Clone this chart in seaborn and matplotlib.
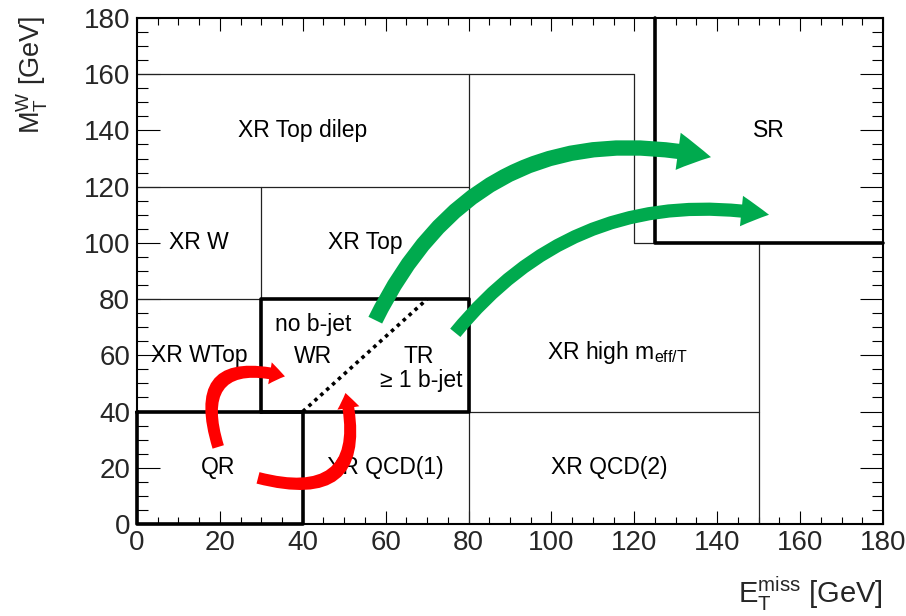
import matplotlib
matplotlib.use("Agg")
import matplotlib.pyplot as plt
import pandas as pd
import seaborn as sns
from matplotlib.patches import FancyArrowPatch, ArrowStyle
from matplotlib.ticker import MultipleLocator

# ---------------- data ----------------
x_ticks = [0, 20, 40, 60, 80, 100, 120, 140, 160, 180]
y_ticks = [0, 20, 40, 60, 80, 100, 120, 140, 160, 180]

# thin region boundaries (E_T^miss, M_T^W) per segment
thin_seg_x = [[0, 120], [120, 120, 125], [80, 80], [0, 80], [30, 30], [0, 30], [80, 150], [150, 150]]
thin_seg_y = [[160, 160], [160, 100, 100], [160, 0], [120, 120], [120, 80], [80, 80], [40, 40], [100, 0]]

# thick region boundaries (WR/TR box, QR box, SR)
thick_seg_x = [[30, 30, 80, 80, 30], [0, 40, 40, 0, 0], [125, 125, 180]]
thick_seg_y = [[40, 80, 80, 40, 40], [40, 40, 0, 0, 40], [180, 100, 100]]

# WR / TR dividing line
div_x = [40, 70]
div_y = [40, 80]

region_names = ["XR Top dilep", "XR W", "XR Top", "no b-jet", "XR WTop", "WR", "TR",
                "\u2265 1 b-jet", r"XR high $\mathrm{m}_{\mathrm{eff/T}}$", "QR",
                "XR QCD(1)", "XR QCD(2)", "SR"]
region_x = [40, 15, 55, 42.5, 15, 42.5, 68, 68.5, 116, 19.5, 60, 114, 152.5]
region_y = [140, 100, 100, 71, 60, 59.5, 59.5, 51, 61, 20, 20, 20, 140]

# extrapolation arrows
green_from_x = [57.5, 76.8]
green_from_y = [72.5, 68.0]
green_to_x = [138.5, 152.5]
green_to_y = [130.5, 110.0]
green_rad = [-0.39, -0.29]
green_head_len = [24, 20]
green_head_wid = [27, 22]
green_tail_wid = [11, 9.5]

red_from_x = [19.6, 29.2]
red_from_y = [27.4, 16.4]
red_to_x = [35.7, 50.3]
red_to_y = [52.5, 46.6]
red_rad = [-0.88, 0.82]

# ---------------- style ----------------
sns.set_theme(style="ticks")
plt.rcParams["font.family"] = ["Liberation Sans", "DejaVu Sans"]
plt.rcParams["mathtext.fontset"] = "custom"
plt.rcParams["mathtext.rm"] = "Liberation Sans"
plt.rcParams["mathtext.it"] = "Liberation Sans"
plt.rcParams["mathtext.bf"] = "Liberation Sans:bold"

fig = plt.figure(figsize=(9.06, 6.16), dpi=100)
ax = fig.add_axes([0.1512, 0.1494, 0.8234, 0.8214])


def seg_frame(xs, ys):
    rows = []
    for i, (sx, sy) in enumerate(zip(xs, ys)):
        for j, (a, b) in enumerate(zip(sx, sy)):
            rows.append({"x": a, "y": b, "seg": i, "order": j})
    return pd.DataFrame(rows)


thin_df = seg_frame(thin_seg_x, thin_seg_y)
thick_df = seg_frame(thick_seg_x, thick_seg_y)
div_df = pd.DataFrame({"x": div_x, "y": div_y})

sns.lineplot(data=thin_df, x="x", y="y", units="seg", estimator=None, sort=False,
             color="#222222", linewidth=0.9, ax=ax, zorder=2)
sns.lineplot(data=thick_df, x="x", y="y", units="seg", estimator=None, sort=False,
             color="black", linewidth=2.6, ax=ax, zorder=3, clip_on=False)
sns.lineplot(data=div_df, x="x", y="y", estimator=None, sort=False,
             color="black", linewidth=2.6, linestyle=(0, (1.0, 1.2)), ax=ax, zorder=3)

for name, tx, ty in zip(region_names, region_x, region_y):
    ax.text(tx, ty, name, ha="center", va="center", fontsize=16.5, color="black", zorder=4)

for x0, y0, x1, y1, r, hl, hw, tw in zip(green_from_x, green_from_y, green_to_x, green_to_y,
                                         green_rad, green_head_len, green_head_wid, green_tail_wid):
    style = ArrowStyle.Simple(head_length=hl, head_width=hw, tail_width=tw)
    ax.add_patch(FancyArrowPatch((x0, y0), (x1, y1), arrowstyle=style,
                                 connectionstyle=f"arc3,rad={r}", mutation_scale=1,
                                 shrinkA=0, shrinkB=0, color="#00AA4E", lw=0, zorder=5))

red_style = ArrowStyle.Simple(head_length=11, head_width=16, tail_width=8.5)
for x0, y0, x1, y1, r in zip(red_from_x, red_from_y, red_to_x, red_to_y, red_rad):
    ax.add_patch(FancyArrowPatch((x0, y0), (x1, y1), arrowstyle=red_style,
                                 connectionstyle=f"arc3,rad={r}", mutation_scale=1,
                                 shrinkA=0, shrinkB=0, color="#FF0000", lw=0, zorder=5))

ax.set_xlim(0, 180)
ax.set_ylim(0, 180)
ax.set_xticks(x_ticks)
ax.set_yticks(y_ticks)
ax.set_xticklabels([str(v) for v in x_ticks])
ax.set_yticklabels([str(v) for v in y_ticks])
ax.xaxis.set_minor_locator(MultipleLocator(5))
ax.yaxis.set_minor_locator(MultipleLocator(5))
ax.tick_params(axis="x", which="major", direction="in", length=9.5, width=0.8,
               top=True, bottom=True, labelsize=20, pad=4, color="black")
ax.tick_params(axis="x", which="minor", direction="in", length=5, width=0.8,
               top=True, bottom=True, color="black")
ax.tick_params(axis="y", which="major", direction="in", length=16.5, width=0.8,
               left=True, right=True, labelsize=20, pad=5, color="black")
ax.tick_params(axis="y", which="minor", direction="in", length=8, width=0.8,
               left=True, right=True, color="black")
for s in ax.spines.values():
    s.set_linewidth(1.5)
    s.set_color("black")
    s.set_visible(True)

ax.set_xlabel(r"$\mathrm{E}_{\mathrm{T}}^{\mathrm{miss}}$ [GeV]", fontsize=21, ha="right")
ax.xaxis.set_label_coords(1.0, -0.1)
ax.set_ylabel(r"$\mathrm{M}_{\mathrm{T}}^{\mathrm{W}}$ [GeV]", fontsize=19.5, loc="top")
ax.yaxis.set_label_coords(-0.117, 1.005)

fig.savefig("out.png", dpi=100)
